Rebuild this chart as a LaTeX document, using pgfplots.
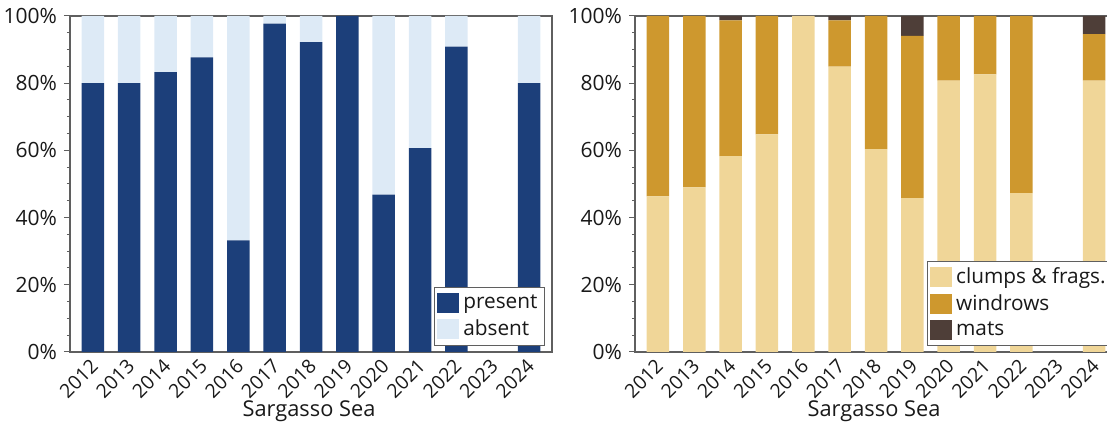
\documentclass[border=0pt]{standalone}
\usepackage{fontspec}
\setmainfont{Open Sans}
\usepackage{pgfplots}
\pgfplotsset{compat=1.18}

\definecolor{present}{RGB}{28,63,122}
\definecolor{absent}{RGB}{221,234,246}
\definecolor{clumps}{RGB}{240,214,152}
\definecolor{windrows}{RGB}{206,152,46}
\definecolor{mats}{RGB}{78,62,56}
\definecolor{axisgray}{RGB}{95,95,95}
\definecolor{ink}{RGB}{25,25,25}

\pgfplotsset{
  sargasso/.style={
    width=241pt, height=168pt, scale only axis,
    anchor=south west,
    ybar stacked, bar width=11.25pt,
    xmin=-0.63, xmax=12.63,
    ymin=0, ymax=100,
    xtick={0,...,12},
    xticklabels={2012,2013,2014,2015,2016,2017,2018,2019,2020,2021,2022,2023,2024},
    ytick={0,20,...,100},
    yticklabel={\pgfmathprintnumber{\tick}\%},
    minor y tick num=3,
    tick align=outside,
    ytick pos=left,
    major tick length=3pt, minor tick length=1.5pt,
    x tick style={draw=none},
    y tick style={axisgray, line width=0.5pt},
    axis line style={axisgray, line width=0.6pt},
    /pgf/number format/assume math mode=true,
    y tick label style={font=\fontsize{10.5}{12}\selectfont, text=ink},
    x tick label style={font=\fontsize{9.7}{11}\selectfont, text=ink,
      rotate=45, anchor=north east, inner sep=1pt, yshift=2.5pt},
    xlabel={Sargasso Sea},
    xlabel style={font=\fontsize{10.9}{13}\selectfont, text=ink,
      at={(rel axis cs:0.5,0)}, anchor=base, yshift=-32.5pt, xshift=-1pt},
    legend cell align=left,
    legend image code/.code={\path[#1, draw=none] (0pt,-5pt) rectangle (11pt,5pt);},
    legend style={draw=axisgray, line width=0.5pt, inner sep=1.5pt,
      font=\fontsize{10.4}{12}\selectfont, text=ink},
  }
}

\begin{document}
\begin{tikzpicture}
% presence of Sargassum per year
\begin{axis}[sargasso, at={(0pt,0pt)},
  legend style={at={(rel axis cs:1,0)}, anchor=south east, xshift=-3.5pt, yshift=3pt}]
\addplot[fill=present, draw=none] coordinates {
  (0,80) (1,80) (2,83.3) (3,87.7) (4,33.2) (5,97.7) (6,92.2)
  (7,100) (8,46.8) (9,60.7) (10,90.9) (11,0) (12,80)};
\addplot[fill=absent, draw=none] coordinates {
  (0,20) (1,20) (2,16.7) (3,12.3) (4,66.8) (5,2.3) (6,7.8)
  (7,0) (8,53.2) (9,39.3) (10,9.1) (11,0) (12,20)};
\legend{present, absent}
\end{axis}

% aggregation type per year
\begin{axis}[sargasso, at={(282.5pt,0pt)},
  legend style={at={(axis description cs:0.605,0.018)}, anchor=south west}]
\addplot[fill=clumps, draw=none] coordinates {
  (0,46.3) (1,49.0) (2,58.3) (3,64.8) (4,100) (5,84.9) (6,60.4)
  (7,45.8) (8,80.8) (9,82.6) (10,47.3) (11,0) (12,80.8)};
\addplot[fill=windrows, draw=none] coordinates {
  (0,53.7) (1,51.0) (2,40.4) (3,35.2) (4,0) (5,13.8) (6,39.6)
  (7,48.3) (8,19.2) (9,17.4) (10,52.7) (11,0) (12,13.8)};
\addplot[fill=mats, draw=none] coordinates {
  (0,0) (1,0) (2,1.3) (3,0) (4,0) (5,1.3) (6,0)
  (7,5.9) (8,0) (9,0) (10,0) (11,0) (12,5.4)};
\legend{clumps \& frags., windrows, mats}
\end{axis}

\pgfresetboundingbox
\useasboundingbox (-35pt,-37pt) rectangle (518.5pt,176pt);
\end{tikzpicture}
\end{document}
